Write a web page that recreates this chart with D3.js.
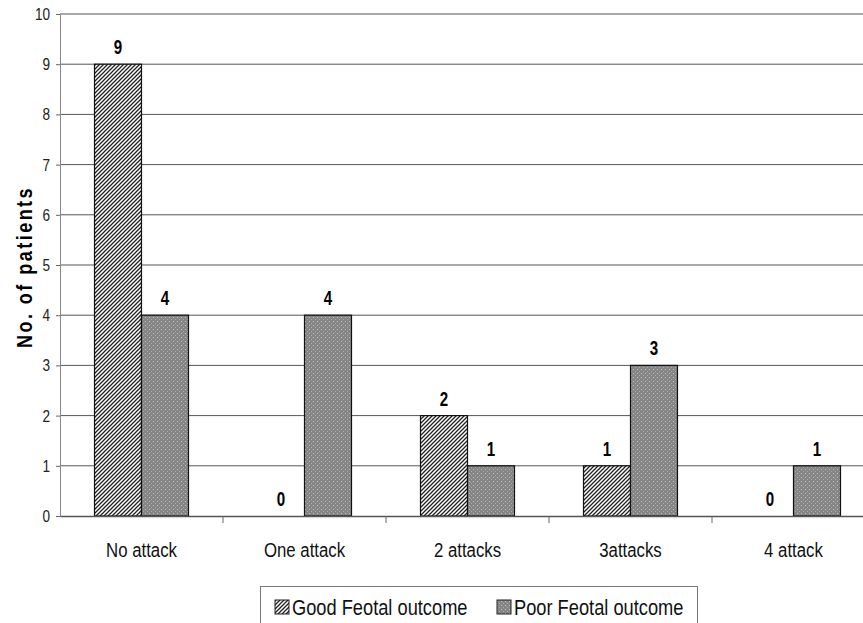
<!DOCTYPE html>
<html>
<head>
<meta charset="utf-8">
<script src="https://cdn.jsdelivr.net/npm/d3@7"></script>
<style>
  body { margin: 0; background: #fff; }
  svg { display: block; }
</style>
</head>
<body>
<script>
const categories = ["No attack", "One attack", "2 attacks", "3attacks", "4 attack"];
const goodOutcome = [9, 0, 2, 1, 0];
const poorOutcome = [4, 4, 1, 3, 1];
const seriesNames = ["Good Feotal outcome", "Poor Feotal outcome"];
const yTicks = [0, 1, 2, 3, 4, 5, 6, 7, 8, 9, 10];

const width = 863, height = 623;
const font = "'Liberation Sans', Arial, sans-serif";
const narrow = 0.8; // reference uses a condensed face

const svg = d3.create("svg")
  .attr("width", width)
  .attr("height", height);
document.body.appendChild(svg.node());

// fill patterns
const defs = svg.append("defs");
const hatch = defs.append("pattern")
  .attr("id", "hatch")
  .attr("patternUnits", "userSpaceOnUse")
  .attr("width", 4).attr("height", 4);
hatch.append("rect").attr("width", 4).attr("height", 4).attr("fill", "#fff");
hatch.append("path")
  .attr("d", "M-1,1 l2,-2 M0,4 l4,-4 M3,5 l2,-2")
  .attr("stroke", "#222").attr("stroke-width", 1.3);

const dots = defs.append("pattern")
  .attr("id", "dots")
  .attr("patternUnits", "userSpaceOnUse")
  .attr("width", 4).attr("height", 4);
dots.append("rect").attr("width", 4).attr("height", 4).attr("fill", "#868686");
dots.append("rect").attr("x", 1).attr("y", 1).attr("width", 1).attr("height", 1).attr("fill", "#c0c0c0");
dots.append("rect").attr("x", 3).attr("y", 3).attr("width", 1).attr("height", 1).attr("fill", "#aaaaaa");

const mLeft = 60, mTop = 14, mBottom = 516;
const x = d3.scaleBand()
  .domain(categories)
  .range([mLeft, mLeft + 163 * categories.length]);
const y = d3.scaleLinear().domain([0, 10]).range([mBottom, mTop]);

const barW = 47;
const seriesData = [goodOutcome, poorOutcome];
const fills = ["url(#hatch)", "url(#dots)"];

// text placed at (tx,ty) and squeezed horizontally
const label = (parent, tx, ty, s) =>
  parent.append("text")
    .attr("transform", `translate(${tx},${ty}) scale(${s},1)`)
    .attr("font-family", font);

// gridlines
svg.append("g")
  .selectAll("line")
  .data(yTicks.filter(d => d > 0))
  .join("line")
  .attr("x1", mLeft).attr("x2", width)
  .attr("y1", d => y(d)).attr("y2", d => y(d))
  .attr("stroke", "#555").attr("stroke-width", 1);

// y axis
const yAxis = svg.append("g")
  .attr("transform", `translate(${mLeft},0)`)
  .call(d3.axisLeft(y).tickValues(yTicks).tickSize(4).tickPadding(8));
yAxis.select(".domain").attr("stroke", "#888");
yAxis.selectAll(".tick line").attr("stroke", "#666");
yAxis.selectAll("text")
  .attr("transform", `scale(${narrow},1)`)
  .attr("x", -10 / narrow)
  .attr("font-family", font).attr("font-size", 17).attr("fill", "#222");

// bars
categories.forEach((c, i) => {
  const cx = x(c) + x.bandwidth() / 2;
  seriesData.forEach((s, k) => {
    const v = s[i];
    const bx = cx - barW + k * barW;
    if (v > 0) {
      svg.append("rect")
        .attr("x", bx).attr("y", y(v))
        .attr("width", barW).attr("height", y(0) - y(v))
        .attr("fill", fills[k])
        .attr("stroke", "#111").attr("stroke-width", 1.2);
    }
    label(svg, bx + barW / 2, y(v) - 10, 0.72)
      .attr("text-anchor", "middle")
      .attr("font-weight", "bold")
      .attr("font-size", 21)
      .text(v);
  });
});

// x axis
const xAxis = svg.append("g")
  .attr("transform", `translate(0,${mBottom})`)
  .call(d3.axisBottom(x).tickSize(0).tickPadding(26));
xAxis.select(".domain").attr("stroke", "#555").attr("stroke-width", 1.5);
xAxis.selectAll("text")
  .attr("transform", `scale(${narrow},1)`)
  .attr("font-family", font).attr("font-size", 21).attr("fill", "#111");
svg.append("g")
  .selectAll("line")
  .data(categories.slice(1))
  .join("line")
  .attr("x1", d => x(d)).attr("x2", d => x(d))
  .attr("y1", mBottom).attr("y2", mBottom + 7)
  .attr("stroke", "#666");

// y title
svg.append("text")
  .attr("transform", `translate(32,${(mTop + mBottom) / 2 + 2}) rotate(-90) scale(0.82,1)`)
  .attr("text-anchor", "middle")
  .attr("font-family", font)
  .attr("font-weight", "bold")
  .attr("font-size", 22)
  .attr("letter-spacing", 3)
  .text("No. of patients");

// legend
const legend = svg.append("g");
legend.append("rect")
  .attr("x", 260.5).attr("y", 586.5)
  .attr("width", 437).attr("height", 50)
  .attr("fill", "#fff").attr("stroke", "#777");
const legX = [275, 497];
seriesNames.forEach((n, k) => {
  legend.append("rect")
    .attr("x", legX[k]).attr("y", 600)
    .attr("width", 14).attr("height", 14)
    .attr("fill", fills[k]).attr("stroke", "#222");
  label(legend, legX[k] + 17, 615, 0.83)
    .attr("font-size", 22)
    .attr("fill", "#111")
    .text(n);
});
</script>
</body>
</html>
